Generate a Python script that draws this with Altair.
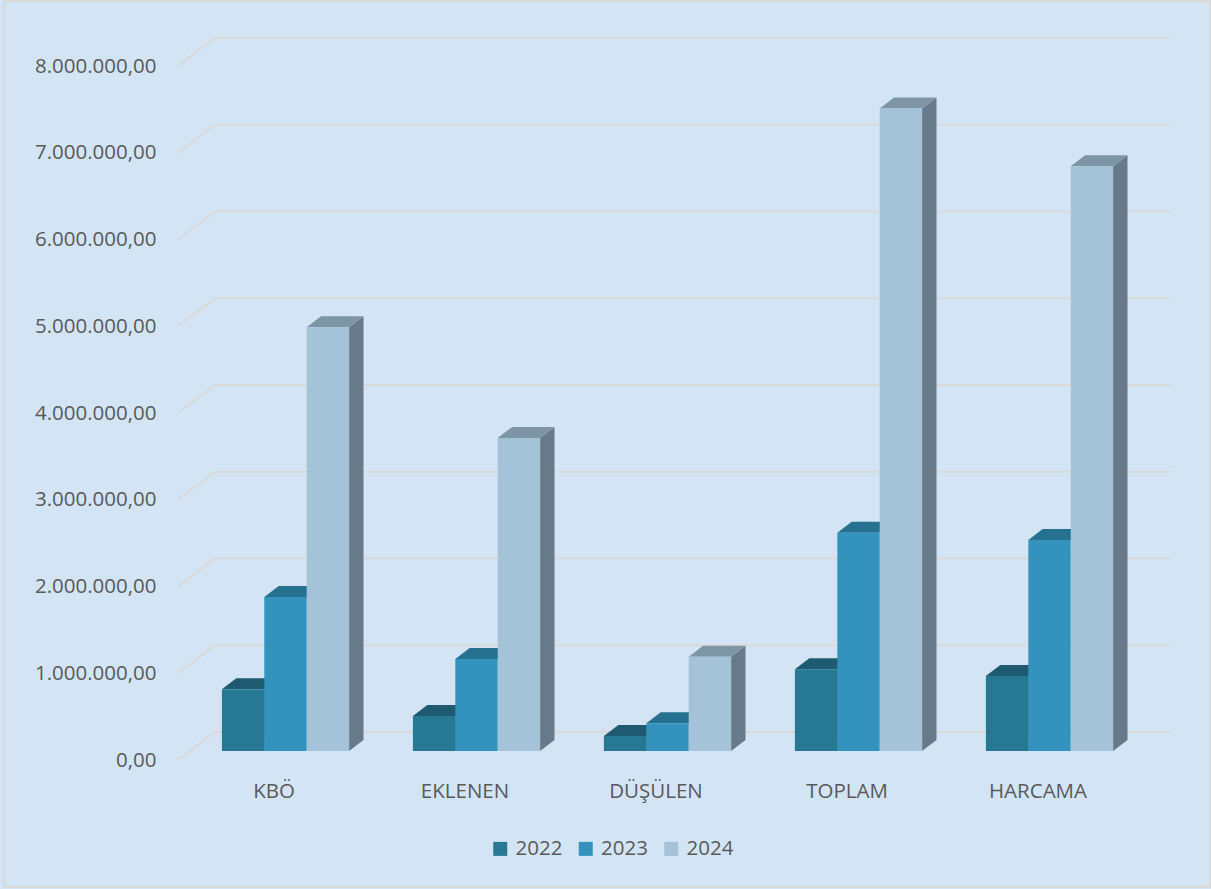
import altair as alt
import pandas as pd

# ---------------- data ----------------
categories = ["KBÖ", "EKLENEN", "DÜŞÜLEN", "TOPLAM", "HARCAMA"]
years = ["2022", "2023", "2024"]
v2022 = [711000, 403000, 173000, 941000, 865000]
v2023 = [1775000, 1061000, 319000, 2517000, 2432000]
v2024 = [4884000, 3608000, 1087000, 7405000, 6740000]
series = [v2022, v2023, v2024]
y_ticks = [0, 1000000, 2000000, 3000000, 4000000, 5000000, 6000000, 7000000, 8000000]

front_colors = ["#277893", "#3393BD", "#A5C3D8"]
top_colors = ["#1E5B71", "#26718F", "#7E95A6"]
side_colors = ["#1B5064", "#23668A", "#677A8A"]

# ---------------- layout (pseudo-3D geometry) ----------------
W, H = 993, 730            # plot area in pixels
U_PX = 191.0               # pixels per category unit
M_PX = 86.75               # pixels per 1,000,000
XMAX = W / U_PX
YMAX = H / M_PX * 1e6
WX, WY = 37 / U_PX, 28 / M_PX * 1e6      # back-wall offset
BX, BY = 12 / U_PX, 9 / M_PX * 1e6       # bar plane offset
DX, DY = 14.4 / U_PX, 11 / M_PX * 1e6    # bar depth
BW = 42.4 / U_PX                          # bar width
GS = (1 - 3 * BW) / 2                     # gap before group

FONT = "Open Sans"
TXT = "#595959"

# gridlines
grid_rows = []
for t in y_ticks:
    grid_rows.append({"x": 0, "x2": WX, "y": t, "y2": t + WY})
    grid_rows.append({"x": WX, "x2": XMAX, "y": t + WY, "y2": t + WY})
grid_df = pd.DataFrame(grid_rows)

front_rows, top_rows, side_rows = [], [], []
for i, cat in enumerate(categories):
    for j, yr in enumerate(years):
        v = series[j][i]
        x0 = i + GS + j * BW + BX
        x1 = x0 + BW
        yb = BY
        yt = BY + v
        bid = f"{cat}-{yr}"
        front_rows.append({"cat": cat, "year": yr, "value": v,
                           "x": x0, "x2": x1, "y": yb, "y2": yt})
        for k, (xx, ya, yb2) in enumerate([(x0, yt, yt), (x0 + DX, yt, yt + DY),
                                            (x1, yt, yt + DY), (x1 + DX, yt + DY, yt + DY)]):
            top_rows.append({"bid": bid, "j": j, "k": k, "x": xx, "y": ya, "y2": yb2})
        for k, (yy, xa, xb) in enumerate([(yb, x1, x1), (yb + DY, x1, x1 + DX),
                                           (yt, x1, x1 + DX), (yt + DY, x1 + DX, x1 + DX)]):
            side_rows.append({"bid": bid, "j": j, "k": k, "y": yy, "x": xa, "x2": xb})

front_df = pd.DataFrame(front_rows)
top_df = pd.DataFrame(top_rows)
side_df = pd.DataFrame(side_rows)

xscale = alt.Scale(domain=[0, XMAX], nice=False, zero=False)
yscale = alt.Scale(domain=[0, YMAX], nice=False, zero=False)

label_names = "[" + ",".join(f"'{c}'" for c in categories) + "]"

x_axis = alt.Axis(values=[i + 0.5 for i in range(len(categories))],
                  labelExpr=f"{label_names}[floor(datum.value)]",
                  title=None, domain=False, ticks=False, grid=False,
                  labelAngle=0, labelPadding=21, labelFlush=False,
                  labelFont=FONT, labelFontSize=20.5, labelColor=TXT)
y_axis = alt.Axis(values=y_ticks,
                  labelExpr="datum.value == 0 ? '0,00' : format(datum.value / 1000000, 'd') + '.000.000,00'",
                  title=None, domain=False, ticks=False, grid=False,
                  labelPadding=22, labelFont=FONT, labelFontSize=20.5, labelColor=TXT)


def X(f):
    return alt.X(f, scale=xscale, axis=x_axis)


def Y(f):
    return alt.Y(f, scale=yscale, axis=y_axis)


grid = alt.Chart(grid_df).mark_rule(color="#D9D9D9", strokeWidth=2).encode(
    x=X("x:Q"), x2="x2:Q", y=Y("y:Q"), y2="y2:Q",
)

layers = [grid]
for j in range(len(years)):
    sd = side_df[side_df["j"] == j]
    layers.append(
        alt.Chart(sd).mark_area(orient="horizontal", opacity=1,
                                color=side_colors[j]).encode(
            y=Y("y:Q"), x=X("x:Q"), x2="x2:Q", detail="bid:N",
        )
    )
for j in range(len(years)):
    td = top_df[top_df["j"] == j]
    layers.append(
        alt.Chart(td).mark_area(orient="vertical", opacity=1,
                                color=top_colors[j]).encode(
            x=X("x:Q"), y=Y("y:Q"), y2="y2:Q", detail="bid:N",
        )
    )

fronts = alt.Chart(front_df).mark_rect().encode(
    x=X("x:Q"), x2="x2:Q", y=Y("y:Q"), y2="y2:Q",
    color=alt.Color("year:N", scale=alt.Scale(domain=years, range=front_colors),
                    legend=alt.Legend(title=None, orient="none", direction="horizontal",
                                      legendX=312, legendY=808.5,
                                      symbolType="square", symbolSize=196,
                                      symbolStrokeWidth=0, labelOffset=5,
                                      columnPadding=12.5, padding=0,
                                      labelFont=FONT, labelFontSize=20.5,
                                      labelColor=TXT)),
    tooltip=["cat:N", "year:N", "value:Q"],
)
layers.append(fronts)

frame = alt.Chart(pd.DataFrame({"a": [0]})).mark_rect(
    filled=False, stroke="#D9D9D9", strokeWidth=2
).encode(
    x=alt.value(-173.5), x2=alt.value(1032), y=alt.value(-29), y2=alt.value(857)
)
layers.append(frame)

chart = alt.layer(*layers).properties(
    width=W, height=H,
    autosize=alt.AutoSizeParams(type="none"),
    padding={"left": 178, "top": 30, "right": 1211 - 178 - W, "bottom": 889 - 30 - H},
    background="#D3E5F4",
).configure_view(strokeWidth=0)

chart.save("out.html", embed_options={"renderer": "svg", "actions": False})
